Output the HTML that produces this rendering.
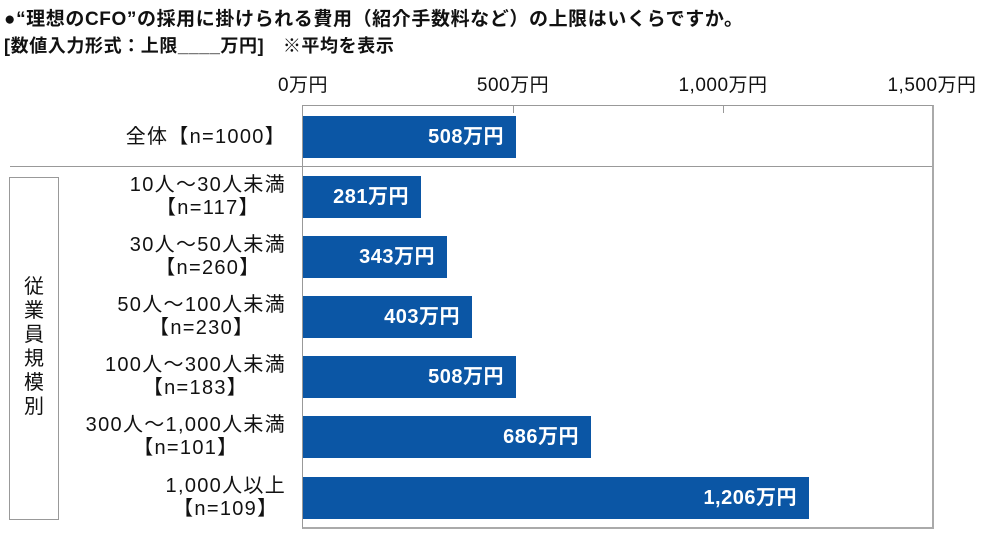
<!DOCTYPE html><html><head><meta charset="utf-8"><style>
body{margin:0;background:#fff;width:1000px;height:545px;overflow:hidden;position:relative;font-family:"Liberation Sans","Noto Sans CJK JP",sans-serif;color:#111}
.a{position:absolute;white-space:nowrap}
.t{font-size:19px;font-weight:bold;left:4px;letter-spacing:0.6px}
.tk{font-size:19px;top:70px;transform:translateX(-50%);letter-spacing:0.5px}
.bar{position:absolute;left:303px;background:#0b56a5;height:42px;color:#fff;font-size:20px;font-weight:bold;line-height:42px;text-align:right;box-sizing:border-box;padding-right:12px;letter-spacing:0.5px}
.lb{position:absolute;right:714px;text-align:center;font-size:20px;line-height:23px;letter-spacing:1.3px}
</style></head><body>
<div class="a t" style="top:4px">●“理想のCFO”の採用に掛けられる費用（紹介手数料など）の上限はいくらですか。</div>
<div class="a t" style="top:32px;font-size:18px">[数値入力形式：上限____万円]　※平均を表示</div>
<div class="a tk" style="left:303px">0万円</div>
<div class="a tk" style="left:513px">500万円</div>
<div class="a tk" style="left:723px">1,000万円</div>
<div class="a tk" style="left:932px">1,500万円</div>
<div class="a" style="left:302px;top:105px;width:629px;height:421px;border:1px solid #999;border-right:2px solid #aaa;border-bottom:2px solid #aaa"></div>
<div class="a" style="left:513px;top:105px;width:1px;height:8px;background:#999"></div>
<div class="a" style="left:723px;top:105px;width:1px;height:8px;background:#999"></div>
<div class="a" style="left:10px;top:166px;width:922px;height:1px;background:#999"></div>
<div class="a" style="left:9px;top:177px;width:50px;height:343px;border:1px solid #999;box-sizing:border-box"></div>
<div class="a" style="left:23px;top:275px;font-size:20px;line-height:24px;width:22px;white-space:normal;text-align:center">従業員規模別</div>
<div class="bar" style="top:116px;width:213px">508万円</div>
<div class="bar" style="top:176px;width:118px">281万円</div>
<div class="bar" style="top:236px;width:144px">343万円</div>
<div class="bar" style="top:296px;width:169px">403万円</div>
<div class="bar" style="top:356px;width:213px">508万円</div>
<div class="bar" style="top:416px;width:288px">686万円</div>
<div class="bar" style="top:477px;width:506px">1,206万円</div>
<div class="lb" style="top:126px">全体【n=1000】</div>
<div class="lb" style="top:174px">10人～30人未満<br>【n=117】</div>
<div class="lb" style="top:234px">30人～50人未満<br>【n=260】</div>
<div class="lb" style="top:294px">50人～100人未満<br>【n=230】</div>
<div class="lb" style="top:354px">100人～300人未満<br>【n=183】</div>
<div class="lb" style="top:414px">300人～1,000人未満<br>【n=101】</div>
<div class="lb" style="top:475px">1,000人以上<br>【n=109】</div>
</body></html>
